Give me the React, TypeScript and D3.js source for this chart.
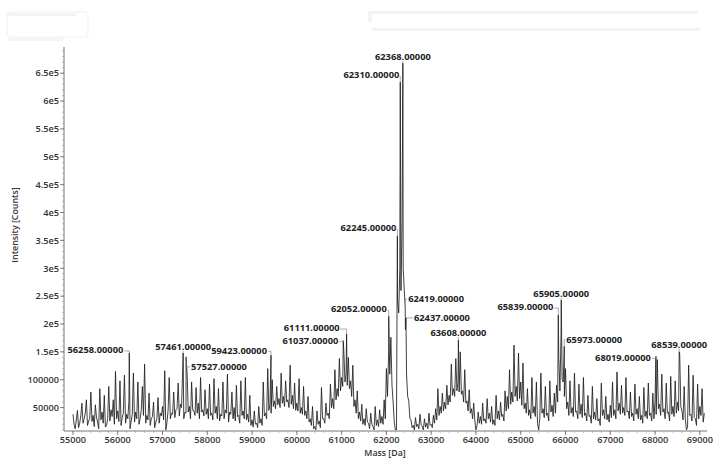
import React from 'react';
import * as d3 from 'd3';

const W = 715;
const H = 461;

// Spectrum spike tops: intensity in thousands of counts, every 50 Da starting at 55000 Da
const massStart = 55000;
const massStep = 50;
const intensityK = [
  // 55000
  38, 12, 45, 22, 58, 30, 64, 26, 78, 36, 55, 24, 84, 42, 72, 18, 88, 46, 64, 115,
  // 56000
  44, 98, 32, 108, 38, 62, 26, 112, 42, 96, 30, 88, 128, 36, 76, 30, 60, 24, 68, 40,
  // 57000
  52, 116, 24, 104, 40, 78, 46, 94, 56, 118, 42, 110, 52, 96, 44, 86, 58, 104, 46, 82,
  // 58000
  48, 92, 40, 102, 52, 84, 38, 96, 46, 110, 42, 78, 50, 90, 36, 98, 44, 104, 38, 72,
  // 59000
  28, 44, 22, 52, 30, 96, 40, 120, 56, 100, 62, 88, 66, 112, 70, 98, 64, 126, 72, 94,
  // 60000
  58, 102, 50, 88, 44, 70, 30, 52, 16, 44, 26, 86, 30, 58, 40, 92, 66, 118, 84, 138,
  // 61000
  104, 150, 112, 140, 98, 126, 64, 80, 42, 56, 30, 48, 22, 40, 16, 52, 28, 46, 34, 64,
  // 62000
  120, 150, 176, 60, 10, 240, 300, 380, 260, 110, 62, 28, 18, 32, 20, 38, 16, 30, 22, 40,
  // 63000
  20, 36, 48, 84, 52, 76, 60, 90, 72, 128, 84, 138, 96, 150, 80, 118, 62, 82, 48, 58,
  // 64000
  10, 42, 34, 58, 30, 66, 40, 52, 28, 72, 44, 60, 38, 80, 70, 118, 78, 162, 88, 148,
  // 65000
  96, 130, 58, 84, 46, 104, 52, 96, 10, 112, 48, 88, 40, 98, 54, 76, 90, 140, 180, 96,
  // 66000
  120, 60, 98, 50, 112, 44, 92, 56, 104, 40, 72, 36, 88, 42, 66, 30, 94, 46, 70, 38,
  // 67000
  54, 96, 46, 114, 58, 90, 50, 104, 44, 78, 40, 92, 48, 70, 36, 86, 44, 94, 40, 76,
  // 68000
  62, 136, 56, 110, 48, 94, 42, 106, 52, 98, 60, 148, 44, 88, 10, 126, 38, 108, 30, 92,
  // 69000
  52, 84, 40,
];

// Troughs between the spikes: thousands of counts, every 50 Da starting at 55025 Da
const troughStart = 55025;
const troughK = [
  // 55025
  20, 28, 14, 35, 22, 40, 18, 30, 25, 16, 33, 12, 28, 22, 15, 30, 26, 34, 20, 30,
  // 56025
  25, 18, 40, 22, 30, 12, 38, 24, 30, 20, 45, 36, 22, 28, 18, 34, 14, 30, 22, 35,
  // 57025
  28, 10, 45, 30, 38, 32, 48, 35, 50, 30, 40, 42, 30, 45, 36, 40, 30, 42, 35, 38,
  // 58025
  30, 36, 28, 40, 30, 26, 35, 30, 40, 24, 38, 30, 26, 34, 22, 36, 30, 28, 24, 18,
  // 59025
  15, 20, 14, 22, 18, 35, 30, 45, 40, 52, 48, 55, 50, 58, 52, 60, 50, 56, 48, 45,
  // 60025
  44, 40, 38, 36, 30, 24, 18, 12, 10, 20, 14, 30, 22, 36, 30, 50, 48, 64, 70, 80,
  // 61025
  88, 96, 90, 84, 70, 52, 40, 30, 26, 20, 18, 24, 12, 20, 10, 18, 16, 22, 20, 30,
  // 62025
  70, 110, 90, 25, 10, 220, 260, 300, 190, 70, 30, 14, 10, 16, 12, 20, 10, 15, 12, 18,
  // 63025
  14, 22, 28, 36, 40, 44, 48, 55, 60, 72, 70, 80, 78, 74, 60, 58, 44, 40, 30, 26,
  // 64025
  18, 22, 20, 26, 22, 30, 24, 20, 18, 30, 28, 34, 26, 44, 48, 56, 60, 70, 62, 66,
  // 65025
  54, 48, 40, 36, 30, 40, 34, 22, 30, 40, 32, 36, 26, 42, 34, 40, 60, 80, 100, 70,
  // 66025
  48, 36, 40, 34, 42, 30, 38, 32, 36, 26, 34, 22, 30, 28, 26, 18, 36, 30, 28, 24,
  // 67025
  32, 36, 30, 44, 38, 40, 36, 42, 30, 34, 26, 38, 30, 28, 22, 34, 30, 36, 26, 30,
  // 68025
  38, 48, 36, 42, 30, 40, 26, 38, 34, 40, 44, 52, 28, 30, 14, 36, 26, 32, 18, 30,
  // 69025
  36, 24,
];

// Labelled peaks
const peakMasses = [56258, 57461, 57527, 59423, 61037, 61111, 62052, 62245, 62310, 62368, 62419, 62437, 63608, 65839, 65905, 65973, 68019, 68539];
const peakIntensityK = [148, 148, 141, 144, 170, 182, 214, 358, 634, 668, 232, 211, 171, 216, 243, 160, 142, 150];

// Label layout (side of the peak, vertical offset of label centre from peak top, gap)
const labelSide = ['L', 'C', 'R', 'L', 'L', 'L', 'L', 'L', 'L', 'C', 'R', 'R', 'C', 'L', 'C', 'R', 'L', 'C'];
const labelDy = [-3, -6, 10, -5, 0, -6, -7, -8, -7, -6, -7, 0, -7, -8, -6, -7, 1, -7];
const labelGap = [6, 0, 5, 4, 5, 7, 2, 1, 1, 0, 3, 8, 0, 5, 0, 2, 5, 0];

const xTickValues = [55000, 56000, 57000, 58000, 59000, 60000, 61000, 62000, 63000, 64000, 65000, 66000, 67000, 68000, 69000];
const yTickValues = [50000, 100000, 150000, 200000, 250000, 300000, 350000, 400000, 450000, 500000, 550000, 600000, 650000];
const yTickLabels = ['50000', '100000', '1.5e5', '2e5', '2.5e5', '3e5', '3.5e5', '4e5', '4.5e5', '5e5', '5.5e5', '6e5', '6.5e5'];

const FONT = '"Open Sans", "Liberation Sans", sans-serif';

export default function App() {
  const x = d3.scaleLinear().domain([54800, 69160]).range([64, 707]);
  const y = d3.scaleLinear().domain([8000, 697000]).range([431, 47]);

  const pts: [number, number][] = intensityK.map((v, i) => [massStart + i * massStep, v * 1000]);
  troughK.forEach((v, i) => pts.push([troughStart + i * massStep, v * 1000]));
  peakMasses.forEach((m, i) => pts.push([m, peakIntensityK[i] * 1000]));
  pts.sort((a, b) => a[0] - b[0]);

  const line = d3
    .line<[number, number]>()
    .x((d) => x(d[0]))
    .y((d) => y(d[1]));

  const minorY = d3.range(10000, 690001, 10000);
  const minorX = d3.range(55000, 69001, 200);

  return (
    <svg width={W} height={H} style={{ position: 'absolute', left: 0, top: 0, background: '#fff' }}>
      <rect x={0} y={0} width={W} height={H} fill="#fff" />
      {/* faint header elements */}
      <rect x={7} y={12} width={81} height={25} rx={3} fill="none" stroke="#f0f0f0" strokeWidth={1} />
      <rect x={8} y={13} width={68} height={3} fill="#f4f4f4" />
      <rect x={8} y={38} width={55} height={3} fill="#f4f4f4" />
      <rect x={368} y={11} width={330} height={3} fill="#f3f3f3" />
      <rect x={372} y={28} width={328} height={3} fill="#f3f3f3" />
      <rect x={368} y={14} width={4} height={8} fill="#f3f3f3" />

      {/* spectrum */}
      <path d={line(pts) || ''} fill="none" stroke="#1f1f1f" strokeWidth={0.85} strokeLinejoin="miter" />

      {/* axes */}
      <line x1={64} y1={47} x2={64} y2={431} stroke="#777" strokeWidth={1} />
      <line x1={64} y1={431} x2={707} y2={431} stroke="#777" strokeWidth={1} />
      {minorY.map((v) => (
        <line key={'my' + v} x1={62} x2={64} y1={y(v)} y2={y(v)} stroke="#999" strokeWidth={0.6} />
      ))}
      {minorX.map((v) => (
        <line key={'mx' + v} x1={x(v)} x2={x(v)} y1={431} y2={433} stroke="#999" strokeWidth={0.6} />
      ))}
      {yTickValues.map((v, i) => (
        <g key={'yt' + v}>
          <line x1={60} x2={64} y1={y(v)} y2={y(v)} stroke="#666" strokeWidth={0.8} />
          <text x={59} y={y(v) + 3.3} textAnchor="end" fontFamily={FONT} fontWeight={600} fontSize={9.2} fill="#333">
            {yTickLabels[i]}
          </text>
        </g>
      ))}
      {xTickValues.map((v) => (
        <g key={'xt' + v}>
          <line x1={x(v)} x2={x(v)} y1={431} y2={435} stroke="#666" strokeWidth={0.8} />
          <text x={x(v)} y={442.5} textAnchor="middle" fontFamily={FONT} fontWeight={600} fontSize={9.2} fill="#333">
            {d3.format('d')(v)}
          </text>
        </g>
      ))}
      <text x={385} y={456} textAnchor="middle" fontFamily={FONT} fontWeight={600} fontSize={8.8} fill="#333">
        Mass [Da]
      </text>
      <text
        transform={`translate(18,225) rotate(-90)`}
        textAnchor="middle"
        fontFamily={FONT}
        fontWeight={600}
        fontSize={8.8}
        fill="#333"
      >
        Intensity [Counts]
      </text>

      {/* peak labels */}
      {peakMasses.map((m, i) => {
        const px = x(m);
        const py = y(peakIntensityK[i] * 1000);
        const cy = py + labelDy[i];
        const side = labelSide[i];
        const gap = labelGap[i];
        const label = m.toFixed(5);
        let tx = px;
        let anchor = 'middle';
        let leader = '';
        if (side === 'L') {
          tx = px - gap;
          anchor = 'end';
          leader = `M${tx + 1},${cy + 1}L${px},${cy + 1}L${px},${py}`;
        } else if (side === 'R') {
          tx = px + gap;
          anchor = 'start';
          leader = `M${tx - 1},${cy}L${px},${cy}L${px},${py}`;
        } else {
          leader = `M${px},${cy + 4}L${px},${py}`;
        }
        return (
          <g key={'pk' + m}>
            <path d={leader} fill="none" stroke="#888" strokeWidth={0.7} />
            <text x={tx} y={cy + 3.3} textAnchor={anchor as any} fontFamily={FONT} fontWeight={700} fontSize={9.3} fill="#222">
              {label}
            </text>
          </g>
        );
      })}
    </svg>
  );
}
